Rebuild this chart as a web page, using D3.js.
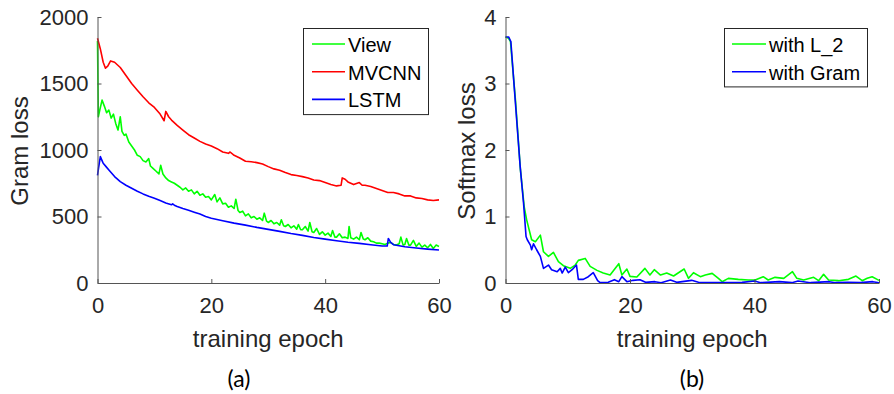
<!DOCTYPE html>
<html>
<head>
<meta charset="utf-8">
<script src="https://cdn.jsdelivr.net/npm/d3@7"></script>
<style>
  html, body { margin: 0; padding: 0; background: #fff; }
  svg { display: block; font-family: "Liberation Sans", Arial, sans-serif; }
</style>
</head>
<body>
<svg id="chart" width="894" height="394"></svg>
<script>
// ---------------- DATA ----------------
// Panel (a): Gram loss
const viewEpochs = [0,0.15,0.4,0.8,1.2,1.6,2.0,2.4,2.8,3.2,3.6,4.0,4.3,4.7,5.0,5.5,6.0,6.5,7.0,7.5,8.0,8.5,9.0,9.3,9.8,10.3,10.8,11.1,11.5,12,12.5,13,13.5,14,14.5,15,15.5,16,16.5,17,17.5,18,18.5,19,19.5,20,20.6,21,21.5,22,22.5,23,23.5,24,24.3,24.7,25,25.5,26,26.5,27,27.5,28,28.5,29,29.3,29.7,30,30.5,31,31.5,32,32.3,32.7,33,33.5,34,34.5,35,35.3,35.7,36,36.5,37,37.3,37.7,38,38.5,39,39.5,40,40.5,41,41.3,41.7,42,42.5,43,43.5,44,44.2,44.5,45,45.5,46,46.3,46.7,47,47.5,48,48.5,49,49.5,50,50.5,51,51.5,52,52.5,53,53.3,53.7,54,54.3,54.7,55,55.5,56,56.5,57,57.5,58,58.5,59,59.5,60];
const viewLoss = [1820,1250,1300,1375,1330,1280,1300,1240,1270,1200,1150,1250,1140,1110,1120,1060,1030,1000,960,950,920,910,935,880,860,840,820,885,820,790,770,760,750,735,720,700,715,690,700,670,690,660,670,645,650,625,665,610,640,595,600,570,580,560,630,545,530,540,505,520,490,500,480,490,470,525,465,455,470,445,455,435,475,430,425,440,415,430,405,440,400,400,425,390,455,385,380,410,365,385,360,375,350,395,345,345,370,340,345,335,425,340,330,345,325,380,330,325,340,315,310,300,300,295,290,300,305,290,285,295,345,285,290,335,285,285,320,275,300,270,285,265,290,260,285,275];

const mvcnnEpochs = [0,0.5,1.0,1.4,1.8,2.3,3.0,4.0,5.0,6.0,7.0,8.0,9.0,10.0,11.0,11.7,12.0,12.5,13,14,15,16,17,18,19,20,21,22,23,23.3,24,25,26,27,28,29,30,31,32,33,34,35,36,37,38,39,40,41,42,42.8,43.0,43.5,44,45,46,46.5,47,48,49,50,51,52,53,54,55,56,57,58,59,60];
const mvcnnLoss = [1840,1760,1660,1615,1630,1670,1660,1620,1560,1500,1450,1400,1355,1320,1270,1220,1290,1250,1225,1185,1150,1115,1090,1065,1045,1030,1010,985,975,985,960,940,915,912,905,895,875,858,848,830,815,808,800,790,775,770,755,740,730,735,790,780,760,740,755,735,735,725,710,695,680,680,670,655,655,640,635,625,620,625];

const lstmEpochs = [0,0.2,0.5,0.8,1,1.5,2,3,4,5,6,7,8,9,10,11,12,13,13.2,13.5,14,15,16,17,18,19,20,22,24,26,28,30,32,34,36,38,40,42,44,46,48,50,50.9,51.1,51.5,52,54,56,58,60];
const lstmLoss = [810,870,950,920,900,875,850,800,762,735,712,690,670,652,637,620,602,588,595,585,575,560,547,532,518,500,487,468,450,435,418,403,388,372,358,342,330,318,306,298,288,278,278,335,305,288,272,263,255,248];

// Panel (b): Softmax loss
const l2Epochs = [0,0.5,0.8,1.6,2.4,3.0,3.4,4.2,4.8,5.6,6.1,6.9,7.7,8.5,9.3,10.4,11.2,11.7,12.8,13.6,14.7,15.7,16.8,18.2,18.7,19.5,20,21.1,22.4,23.2,23.9,24.9,25.9,27,28.7,29.4,30.2,31.3,32.1,33.2,34.2,34.8,35.8,37.4,39,40.1,41.4,42.2,43.3,44.7,46.1,46.8,47.9,49.5,50.3,51.1,51.9,53.5,55.1,56.3,57.3,58.1,58.9,59.7,60];
const l2Loss = [3.7,3.68,3.63,2.75,1.7,1.15,0.95,0.65,0.62,0.72,0.47,0.40,0.46,0.32,0.26,0.22,0.27,0.34,0.37,0.25,0.19,0.15,0.12,0.29,0.12,0.21,0.10,0.09,0.22,0.12,0.20,0.12,0.15,0.105,0.21,0.07,0.155,0.095,0.12,0.145,0.07,0.02,0.07,0.055,0.045,0.045,0.095,0.045,0.085,0.07,0.17,0.07,0.045,0.085,0.035,0.13,0.045,0.035,0.055,0.105,0.035,0.07,0.095,0.055,0.04];

const gramEpochs = [0,0.5,0.86,1.56,2.36,2.9,3.3,3.5,4.0,4.2,4.5,5.0,5.6,6.1,6.9,7.4,8.3,8.8,9.1,9.6,10.1,10.7,11.4,11.7,12.5,13.3,14.1,14.8,15.2,16.5,17.5,18.2,18.7,19.5,20.5,21.6,22.5,24,25,26.5,27.5,29.9,31,33,36,38,40,41,44,46,47,49,52,53,55,57,59,60];
const gramLoss = [3.7,3.7,3.63,2.75,1.75,1.2,0.70,0.65,0.57,0.50,0.59,0.50,0.40,0.22,0.27,0.20,0.17,0.22,0.15,0.24,0.155,0.20,0.27,0.055,0.055,0.095,0.155,0.035,0.005,0.01,0.05,0.02,0.095,0.02,0.04,0.05,0.01,0.02,0.005,0.045,0.01,0.04,0.01,0.005,0.005,0.01,0.03,0.005,0.02,0.005,0.03,0.005,0.02,0.005,0.01,0.005,0.02,0.005];

const xTicks = [0, 20, 40, 60];
const gramTicks = [0, 500, 1000, 1500, 2000];
const softTicks = [0, 1, 2, 3, 4];

const panelA = [
  {name: "View", color: "#00ff00", x: viewEpochs, y: viewLoss},
  {name: "MVCNN", color: "#ff0000", x: mvcnnEpochs, y: mvcnnLoss},
  {name: "LSTM", color: "#0000ff", x: lstmEpochs, y: lstmLoss}
];
const panelB = [
  {name: "with L_2", color: "#00ff00", x: l2Epochs, y: l2Loss},
  {name: "with Gram", color: "#0000ff", x: gramEpochs, y: gramLoss}
];

// ---------------- DRAW ----------------
const svg = d3.select("#chart");
const axisColor = "#555";
const textColor = "#262626";
const fmt = d3.format("d");

function panel(cfg) {
  const g = svg.append("g");
  const x = d3.scaleLinear().domain([0, 60]).range([cfg.left, cfg.right]);
  const y = d3.scaleLinear().domain(cfg.yDomain).range([cfg.bottom, cfg.top]);

  const line = d3.line().x(d => x(d[0])).y(d => y(d[1]));
  cfg.series.forEach(s => {
    const pts = s.x.map((e, i) => [e, s.y[i]]);
    g.append("path").datum(pts)
      .attr("fill", "none").attr("stroke", s.color)
      .attr("stroke-width", 1.6).attr("stroke-linejoin", "round")
      .attr("d", line);
  });

  const xa = g.append("g").attr("transform", `translate(0,${cfg.bottom})`)
    .call(d3.axisBottom(x).tickValues(xTicks).tickFormat(fmt).tickSizeInner(-4).tickSizeOuter(0).tickPadding(9));
  const ya = g.append("g").attr("transform", `translate(${cfg.left},0)`)
    .call(d3.axisLeft(y).tickValues(cfg.yTicks).tickFormat(fmt).tickSizeInner(-4).tickSizeOuter(0).tickPadding(9));
  [xa, ya].forEach(a => {
    a.select(".domain").attr("stroke", axisColor).attr("stroke-width", 1);
    a.selectAll(".tick line").attr("stroke", axisColor);
    a.selectAll("text").attr("fill", textColor).style("font-size", "22px")
      .style("font-family", "'Liberation Sans', Arial, sans-serif");
  });
  xa.selectAll("text").attr("dy", "0.95em");

  g.append("text").attr("x", (cfg.left + cfg.right) / 2).attr("y", 347)
    .attr("text-anchor", "middle").attr("fill", textColor).style("font-size", "24px")
    .text("training epoch");
  g.append("text").attr("transform", `translate(${cfg.ylabX},${(cfg.top + cfg.bottom) / 2 + 1}) rotate(-90)`)
    .attr("text-anchor", "middle").attr("fill", textColor).style("font-size", "24px")
    .text(cfg.ylabel);

  g.append("text").attr("x", cfg.capX).attr("y", 387).attr("text-anchor", "middle")
    .attr("fill", "#000").style("font-size", "23px").style("font-family", "Lato, 'Open Sans', sans-serif")
    .text(cfg.caption);

  const lg = g.append("g");
  lg.append("rect").attr("x", cfg.leg.x0 + 0.5).attr("y", 28.5)
    .attr("width", cfg.leg.x1 - cfg.leg.x0).attr("height", 27.7 * cfg.series.length + 3)
    .attr("fill", "#fff").attr("stroke", "#262626").attr("stroke-width", 1);
  cfg.series.forEach((s, i) => {
    const cy = 44 + i * 27.7;
    lg.append("line").attr("x1", cfg.leg.l0).attr("x2", cfg.leg.l1)
      .attr("y1", cy).attr("y2", cy).attr("stroke", s.color).attr("stroke-width", 1.6);
    lg.append("text").attr("x", cfg.leg.l1 + 3).attr("y", cy + 8)
      .attr("fill", "#000").style("font-size", "20px").text(s.name);
  });
}

panel({
  left: 97.5, right: 439, top: 17, bottom: 283, yDomain: [0, 2000], yTicks: gramTicks,
  series: panelA, ylabel: "Gram loss", ylabX: 28, caption: "(a)", capX: 239,
  leg: {x0: 303, x1: 428, l0: 312, l1: 345}
});
panel({
  left: 505.5, right: 879, top: 17, bottom: 283, yDomain: [0, 4], yTicks: softTicks,
  series: panelB, ylabel: "Softmax loss", ylabX: 475, caption: "(b)", capX: 692,
  leg: {x0: 724, x1: 867, l0: 732, l1: 766}
});
</script>
</body>
</html>
